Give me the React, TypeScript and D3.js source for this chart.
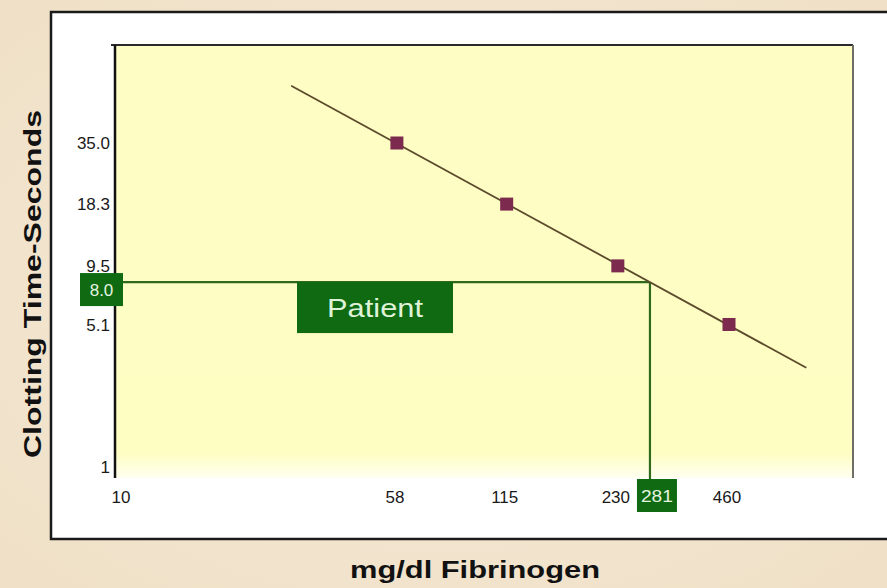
import React from "react";
import * as d3 from "d3";

// ---- data ----
const fibrinogen = [58, 115, 230, 460]; // mg/dl
const clottingTime = [35.0, 18.3, 9.5, 5.1]; // seconds
const xTickValues = [10, 58, 115, 230, 460];
const yTickValues = [1, 5.1, 9.5, 18.3, 35.0];
const yTickLabels = ["1", "5.1", "9.5", "18.3", "35.0"];
const patientFibrinogen = 281;
const patientTime = 8.0;
const trendRange = [30, 745];

const W = 887;
const H = 588;
const plot = { left: 115, right: 853, top: 45, bottom: 478 };

export default function App() {
  const x = d3.scaleLog().domain([10, 460]).range([115, 729]);
  const y = d3.scaleLog().domain([1, 35]).range([478, 143]);

  // least squares fit in log-log space
  const lx = fibrinogen.map((v) => Math.log10(v));
  const ly = clottingTime.map((v) => Math.log10(v));
  const mx = d3.mean(lx)!;
  const my = d3.mean(ly)!;
  const slope =
    d3.sum(lx.map((v, i) => (v - mx) * (ly[i] - my))) /
    d3.sum(lx.map((v) => (v - mx) * (v - mx)));
  const intercept = my - slope * mx;
  const fit = (f: number) => Math.pow(10, intercept + slope * Math.log10(f));
  const trend = trendRange.map((f) => [f, fit(f)] as [number, number]);
  const linePath = d3
    .line<[number, number]>()
    .x((d) => x(d[0]))
    .y((d) => y(d[1]))(trend);

  const px = x(patientFibrinogen);
  const py = y(patientTime);
  const green = "#0f6a12";
  const lineGreen = "#2f6a1c";
  const tickFont = "Arial, 'Liberation Sans', sans-serif";

  return (
    <svg
      width={W}
      height={H}
      style={{ position: "absolute", left: 0, top: 0, display: "block" }}
    >
      <defs>
        <linearGradient id="plotFill" x1="0" y1="0" x2="0" y2="1">
          <stop offset="0" stopColor="#fefdc4" />
          <stop offset="0.94" stopColor="#fefdc2" />
          <stop offset="1" stopColor="#fffff0" />
        </linearGradient>
        <radialGradient id="bgFill" cx="0.5" cy="0.5" r="0.75">
          <stop offset="0" stopColor="#f6ead7" />
          <stop offset="1" stopColor="#efdfc6" />
        </radialGradient>
      </defs>
      <rect x={0} y={0} width={W} height={H} fill="url(#bgFill)" />
      {/* outer white panel */}
      <rect
        x={51}
        y={12}
        width={W + 10}
        height={527}
        fill="#ffffff"
        stroke="#1a1a1a"
        strokeWidth={2.5}
      />
      {/* plot area */}
      <rect
        x={plot.left}
        y={plot.top}
        width={plot.right - plot.left}
        height={plot.bottom - plot.top}
        fill="url(#plotFill)"
      />
      <line x1={111} y1={plot.top} x2={plot.right} y2={plot.top} stroke="#2a2a2a" strokeWidth={2} />
      <line x1={plot.right} y1={plot.top} x2={plot.right} y2={plot.bottom} stroke="#6e6e66" strokeWidth={2} />
      <line x1={plot.left} y1={plot.top} x2={plot.left} y2={plot.bottom} stroke="#111" strokeWidth={2.5} />

      {/* y tick labels */}
      {yTickValues.map((v, i) => (
        <text
          key={"y" + i}
          x={110}
          y={Math.min(y(v), plot.bottom - 11)}
          dy="0.36em"
          textAnchor="end"
          fontFamily={tickFont}
          fontSize={17}
          fill="#1a1a1a"
        >
          {yTickLabels[i]}
        </text>
      ))}
      {/* x tick labels */}
      {xTickValues.map((v, i) => (
        <text
          key={"x" + i}
          x={x(v) + (i === 0 ? 6 : -2)}
          y={497}
          dy="0.36em"
          textAnchor="middle"
          fontFamily={tickFont}
          fontSize={17}
          fill="#1a1a1a"
        >
          {v}
        </text>
      ))}

      {/* patient crosshair */}
      <line x1={plot.left} y1={py} x2={px} y2={py} stroke={lineGreen} strokeWidth={2.2} />
      <line x1={px} y1={py} x2={px} y2={plot.bottom + 2} stroke={lineGreen} strokeWidth={2.2} />

      {/* trend line */}
      <path d={linePath!} fill="none" stroke="#5b4a2c" strokeWidth={1.8} />

      {/* markers */}
      {fibrinogen.map((f, i) => (
        <rect
          key={"m" + i}
          x={x(f) - 6.5}
          y={y(clottingTime[i]) - 6.5}
          width={13}
          height={13}
          fill="#7c2a4e"
        />
      ))}

      {/* Patient box */}
      <rect x={297} y={py} width={156} height={51} fill={green} />
      <text
        x={375}
        y={py + 26}
        dy="0.36em"
        textAnchor="middle"
        fontFamily={tickFont}
        fontSize={26}
        fill="#dff3d8"
        textLength={96}
        lengthAdjust="spacingAndGlyphs"
      >
        Patient
      </text>

      {/* 8.0 box on y axis */}
      <rect x={80} y={py - 9} width={43} height={33} fill={green} />
      <text
        x={101.5}
        y={py + 7.5}
        dy="0.36em"
        textAnchor="middle"
        fontFamily={tickFont}
        fontSize={17}
        fill="#e6f5e0"
      >
        {patientTime.toFixed(1)}
      </text>

      {/* 281 box on x axis */}
      <rect x={px - 13} y={479} width={40} height={33} fill={green} />
      <text
        x={px + 7}
        y={496}
        dy="0.36em"
        textAnchor="middle"
        fontFamily={tickFont}
        fontSize={17}
        fill="#e6f5e0"
        textLength={32}
        lengthAdjust="spacingAndGlyphs"
      >
        {patientFibrinogen}
      </text>

      {/* axis titles */}
      <text
        x={475}
        y={578}
        textAnchor="middle"
        fontFamily={tickFont}
        fontWeight="bold"
        fontSize={24}
        fill="#111"
        textLength={250}
        lengthAdjust="spacingAndGlyphs"
      >
        mg/dl Fibrinogen
      </text>
      <text
        transform="translate(41,284) rotate(-90)"
        textAnchor="middle"
        fontFamily={tickFont}
        fontWeight="bold"
        fontSize={24}
        fill="#111"
        textLength={348}
        lengthAdjust="spacingAndGlyphs"
      >
        Clotting Time-Seconds
      </text>
    </svg>
  );
}
